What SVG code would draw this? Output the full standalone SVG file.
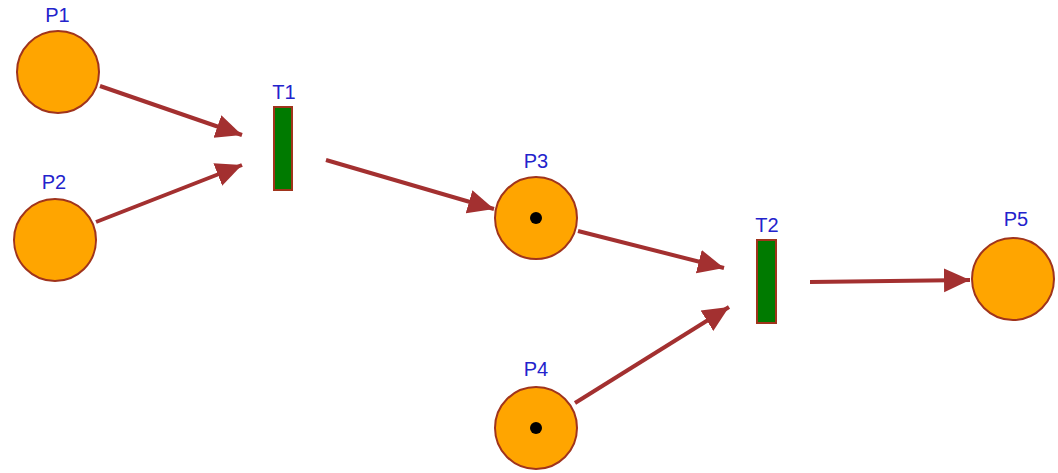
<svg xmlns="http://www.w3.org/2000/svg" width="1058" height="473" viewBox="0 0 1058 473">
<style>
.place{fill:#FFA500;stroke:#A0341C;stroke-width:2}
.trans{fill:#007A00;stroke:#A0341C;stroke-width:2}
.token{fill:#000}
.lbl{font-family:"Liberation Sans",Arial,sans-serif;font-size:20px;fill:#2323CC;text-anchor:middle}
.arc{stroke:#A33030;stroke-width:4;fill:none;marker-end:url(#ah)}
</style>
<defs>
<marker id="ah" markerUnits="userSpaceOnUse" markerWidth="26" markerHeight="26" refX="26" refY="13" orient="auto" viewBox="0 0 26 26">
<path d="M0,1 L26,13 L0,25 Z" fill="#A33030"/>
</marker>
</defs>
<rect width="1058" height="473" fill="#fff"/>
<g id="connectors">
<line class="arc" x1="100" y1="86" x2="242" y2="135"/>
<line class="arc" x1="96" y1="222" x2="242" y2="165"/>
<line class="arc" x1="326" y1="160" x2="494" y2="209"/>
<line class="arc" x1="578" y1="231" x2="724" y2="268"/>
<line class="arc" x1="575" y1="403" x2="729" y2="307"/>
<line class="arc" x1="810" y1="282" x2="970" y2="280"/>
</g>
<g id="P1"><circle class="place" cx="58" cy="72" r="41"/><text class="lbl" x="57.5" y="22">P1</text></g>
<g id="P2"><circle class="place" cx="55" cy="240" r="41"/><text class="lbl" x="54" y="189">P2</text></g>
<g id="T1"><rect class="trans" x="274" y="107" width="18" height="83"/><text class="lbl" x="284" y="99">T1</text></g>
<g id="P3"><circle class="place" cx="536" cy="218" r="41"/><circle class="token" cx="536" cy="218" r="6"/><text class="lbl" x="536" y="168">P3</text></g>
<g id="T2"><rect class="trans" x="757" y="240" width="19" height="83"/><text class="lbl" x="767" y="232">T2</text></g>
<g id="P4"><circle class="place" cx="536" cy="428" r="41"/><circle class="token" cx="536" cy="428" r="6"/><text class="lbl" x="536" y="376">P4</text></g>
<g id="P5"><circle class="place" cx="1013" cy="279" r="41"/><text class="lbl" x="1016" y="226">P5</text></g>
</svg>
